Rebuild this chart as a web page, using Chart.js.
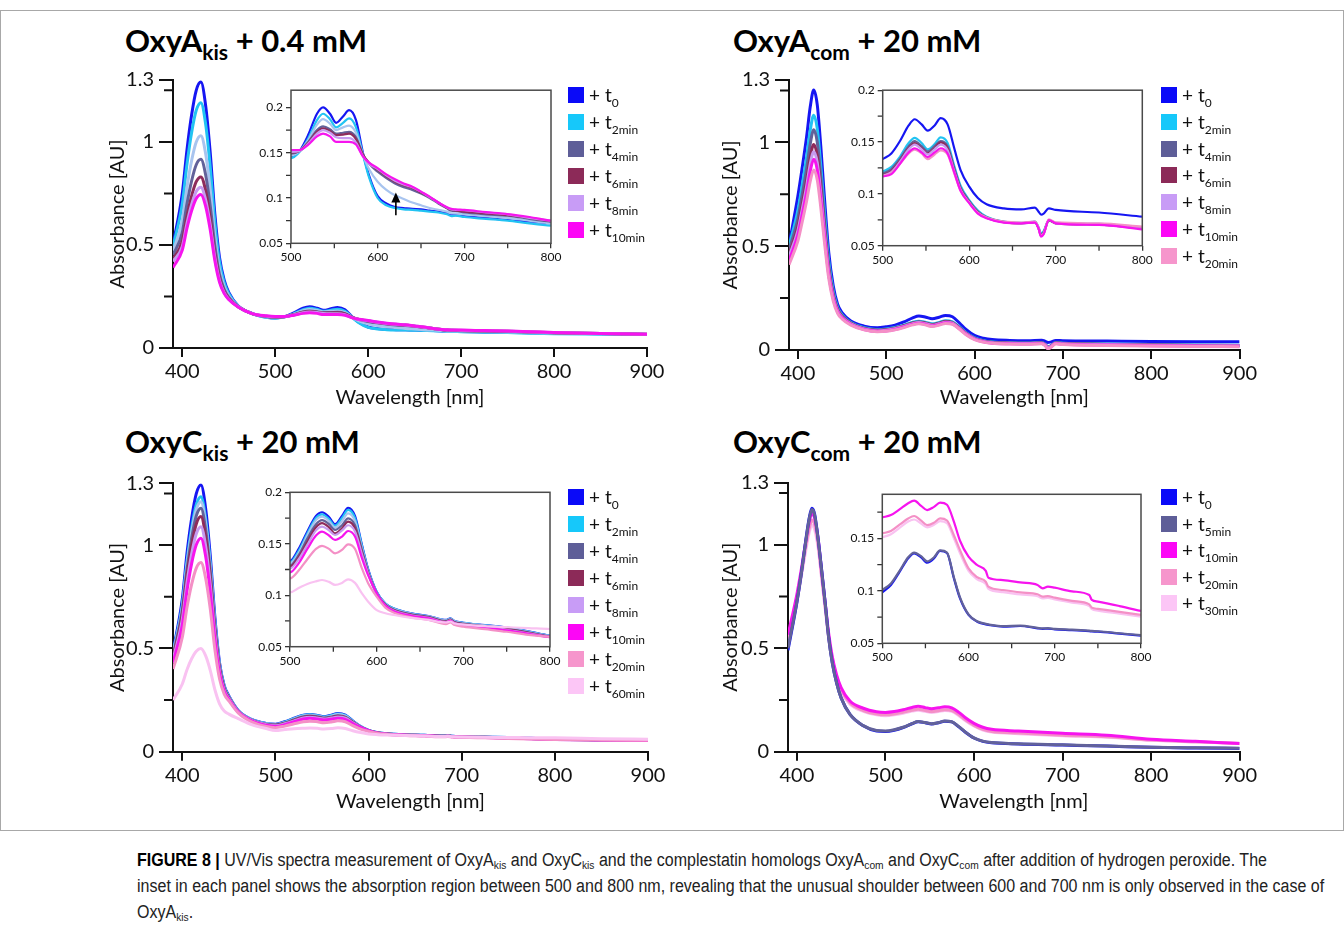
<!DOCTYPE html>
<html><head><meta charset="utf-8">
<script src="https://cdn.jsdelivr.net/npm/chart.js@4.4.1/dist/chart.umd.min.js"></script>
<style>
html,body{margin:0;padding:0;background:#fff;}
body{width:1344px;height:926px;position:relative;overflow:hidden;font-family:Lato,"Open Sans",sans-serif;}
canvas{position:absolute;}
.frame{position:absolute;left:0;top:10px;width:1342px;height:819px;border:1px solid #a8a8a8;}
.ptitle{position:absolute;font-weight:700;font-size:31px;line-height:40px;color:#000;white-space:nowrap;}
.ptitle sub{font-size:21px;vertical-align:-8px;line-height:0;}
.leg{position:absolute;height:16px;display:flex;align-items:center;white-space:nowrap;}
.sw{width:16px;height:16px;display:inline-block;margin-right:5px;flex:none;}
.lt{font-size:19px;line-height:16px;color:#111;}
.lt sub{font-size:12px;vertical-align:-5px;line-height:0;}
.cap{position:absolute;left:137px;top:847px;white-space:nowrap;font-family:"Liberation Sans",Arial,sans-serif;font-size:18px;line-height:26px;color:#222;transform:scaleX(0.89);transform-origin:0 0;}
.cap b{color:#000;}
.cap sub{font-size:11.5px;vertical-align:-3px;line-height:0;}
</style>
</head><body>
<div class="frame"></div>
<div class="ptitle" style="left:125px;top:20px">OxyA<sub>kis</sub> + 0.4 mM</div>
<div class="ptitle" style="left:733px;top:20px">OxyA<sub>com</sub> + 20 mM</div>
<div class="ptitle" style="left:125px;top:421px">OxyC<sub>kis</sub> + 20 mM</div>
<div class="ptitle" style="left:733px;top:421px">OxyC<sub>com</sub> + 20 mM</div>
<div class="cap"><b>FIGURE 8 |</b> UV/Vis spectra measurement of OxyA<sub>kis</sub> and OxyC<sub>kis</sub> and the complestatin homologs OxyA<sub>com</sub> and OxyC<sub>com</sub> after addition of hydrogen peroxide. The<br>inset in each panel shows the absorption region between 500 and 800 nm, revealing that the unusual shoulder between 600 and 700 nm is only observed in the case of<br>OxyA<sub>kis</sub>.</div>
<script>
// ---------------- DATA ----------------
const MAIN_X_TICKS = [400, 500, 600, 700, 800, 900];
const MAIN_Y_TICKS = [0, 0.5, 1, 1.3];
const MAIN_Y_MINOR = [0.25, 0.75, 1.25];
const INSET_X_TICKS = [500, 600, 700, 800];
const INSET_X_MINOR = [550, 650, 750];
const INSET_Y_TICKS = [0.05, 0.1, 0.15, 0.2];
const INSET_Y_TICKS_CCOM = [0.05, 0.1, 0.15];
const INSET_Y_MINOR = [0.075, 0.125, 0.175];

// Panel 1: OxyA_kis + 0.4 mM
const WL_AKIS = [390,400,405,410,415,420,425,430,435,440,445,450,460,475,490,500,510,520,530,537,545,552,560,567,575,583,590,600,610,620,630,640,650,660,670,680,685,690,700,725,750,775,800,850,900];
const AKIS_T0 = [0.50,0.75,0.96,1.13,1.25,1.29,1.18,0.95,0.65,0.44,0.33,0.27,0.205,0.168,0.150,0.145,0.152,0.170,0.193,0.200,0.193,0.183,0.190,0.197,0.186,0.150,0.125,0.102,0.094,0.090,0.089,0.088,0.0875,0.086,0.085,0.083,0.081,0.081,0.080,0.078,0.0757,0.074,0.072,0.069,0.066];
const AKIS_T2 = [0.49,0.70,0.89,1.044,1.153,1.19,1.09,0.881,0.609,0.418,0.318,0.263,0.203,0.167,0.149,0.144,0.151,0.166,0.186,0.193,0.187,0.178,0.183,0.188,0.178,0.148,0.123,0.100,0.092,0.089,0.0875,0.087,0.086,0.085,0.084,0.082,0.080,0.0805,0.079,0.077,0.075,0.072,0.0695,0.067,0.065];
const AKIS_TX = [0.47,0.619,0.779,0.908,0.999,1.03,0.946,0.771,0.543,0.383,0.299,0.253,0.202,0.167,0.151,0.147,0.152,0.164,0.181,0.187,0.182,0.175,0.178,0.180,0.172,0.148,0.132,0.118,0.109,0.103,0.099,0.095,0.092,0.089,0.087,0.085,0.083,0.083,0.082,0.080,0.078,0.075,0.072,0.069,0.066];
const AKIS_T4 = [0.45,0.561,0.698,0.81,0.889,0.915,0.843,0.692,0.495,0.357,0.285,0.246,0.201,0.167,0.153,0.149,0.152,0.162,0.175,0.179,0.176,0.171,0.172,0.173,0.167,0.148,0.138,0.129,0.122,0.116,0.112,0.109,0.105,0.100,0.094,0.0886,0.086,0.0857,0.084,0.082,0.0805,0.077,0.074,0.070,0.067];
const AKIS_T6 = [0.43,0.518,0.639,0.737,0.807,0.83,0.766,0.633,0.46,0.339,0.275,0.24,0.200,0.167,0.154,0.150,0.152,0.161,0.173,0.177,0.174,0.1695,0.170,0.171,0.165,0.148,0.139,0.131,0.124,0.118,0.114,0.111,0.106,0.101,0.095,0.089,0.087,0.086,0.085,0.083,0.081,0.078,0.0745,0.070,0.067];
const AKIS_T8 = [0.42,0.493,0.604,0.695,0.759,0.78,0.721,0.599,0.44,0.328,0.269,0.237,0.200,0.167,0.155,0.151,0.152,0.160,0.171,0.175,0.172,0.167,0.166,0.166,0.161,0.146,0.138,0.132,0.125,0.119,0.115,0.112,0.107,0.101,0.095,0.0895,0.0875,0.087,0.0865,0.084,0.082,0.078,0.075,0.070,0.067];
const AKIS_T10 = [0.39,0.475,0.58,0.665,0.725,0.745,0.69,0.575,0.425,0.32,0.265,0.235,0.199,0.167,0.156,0.153,0.153,0.159,0.168,0.171,0.168,0.162,0.162,0.162,0.159,0.146,0.139,0.133,0.126,0.1206,0.116,0.1125,0.107,0.1015,0.095,0.0897,0.088,0.0875,0.0868,0.0845,0.0823,0.079,0.075,0.070,0.067];
const AKIS_ARROW = [621, 0.081, 0.106]; // wavelength, from, to

// Panel 2: OxyA_com + 20 mM (main)
const WL_ACOM = [390,400,405,410,414,418,422,426,430,435,440,445,450,460,475,490,500,510,520,530,537,545,552,560,567,575,583,590,600,610,620,640,660,676,680,683,686,692,700,750,800,850,900];
const ACOM_T0 = [0.505,0.74,0.88,1.03,1.17,1.252,1.18,0.98,0.74,0.47,0.31,0.22,0.18,0.14,0.115,0.107,0.112,0.12,0.135,0.155,0.164,0.158,0.151,0.158,0.166,0.16,0.13,0.10,0.07,0.057,0.05,0.046,0.045,0.047,0.042,0.036,0.038,0.046,0.045,0.043,0.041,0.04,0.04];
const ACOM_T2 = [0.50,0.671,0.796,0.931,1.057,1.13,1.066,0.886,0.671,0.429,0.285,0.205,0.169,0.132,0.107,0.098,0.101,0.108,0.12,0.134,0.139,0.133,0.126,0.133,0.141,0.136,0.111,0.085,0.058,0.045,0.039,0.035,0.034,0.036,0.027,0.015,0.02,0.036,0.033,0.029,0.026,0.024,0.023];
const ACOM_T4 = [0.48,0.632,0.749,0.875,0.992,1.06,1.00,0.833,0.632,0.407,0.273,0.199,0.165,0.13,0.105,0.096,0.099,0.106,0.118,0.131,0.136,0.130,0.123,0.130,0.138,0.133,0.108,0.083,0.056,0.043,0.037,0.034,0.033,0.035,0.026,0.013,0.018,0.035,0.032,0.028,0.025,0.023,0.022];
const ACOM_T6 = [0.46,0.594,0.702,0.819,0.927,0.99,0.935,0.78,0.594,0.385,0.262,0.193,0.161,0.128,0.103,0.094,0.097,0.104,0.116,0.129,0.134,0.128,0.121,0.128,0.136,0.131,0.106,0.081,0.055,0.042,0.036,0.033,0.032,0.034,0.025,0.012,0.017,0.034,0.031,0.027,0.024,0.022,0.021];
const ACOM_T8 = [0.45,0.574,0.678,0.79,0.894,0.955,0.902,0.753,0.574,0.374,0.255,0.188,0.158,0.126,0.101,0.092,0.095,0.102,0.114,0.127,0.132,0.126,0.119,0.126,0.134,0.129,0.104,0.079,0.054,0.041,0.035,0.032,0.031,0.033,0.024,0.01,0.016,0.033,0.030,0.026,0.023,0.021,0.020];
const ACOM_T10 = [0.43,0.553,0.653,0.76,0.86,0.918,0.867,0.724,0.553,0.361,0.248,0.184,0.155,0.123,0.099,0.09,0.092,0.099,0.111,0.124,0.129,0.123,0.116,0.123,0.131,0.126,0.102,0.077,0.052,0.039,0.033,0.030,0.029,0.031,0.022,0.007,0.013,0.031,0.028,0.024,0.021,0.019,0.018];
const ACOM_T20 = [0.41,0.524,0.618,0.719,0.812,0.867,0.819,0.685,0.524,0.344,0.237,0.177,0.15,0.12,0.097,0.088,0.09,0.097,0.108,0.121,0.126,0.12,0.113,0.12,0.128,0.124,0.1,0.075,0.05,0.038,0.032,0.029,0.028,0.03,0.021,0.006,0.012,0.03,0.026,0.022,0.019,0.017,0.016];
// Panel 2 inset (500-800 nm)
const WL_ACOM_IN = [500,510,520,530,537,545,552,560,567,575,583,590,600,610,620,640,660,676,680,683,686,692,700,750,800];
const ACOM_IN_T0 = [0.1336,0.139,0.151,0.166,0.172,0.167,0.161,0.166,0.173,0.167,0.143,0.123,0.107,0.096,0.090,0.086,0.085,0.0868,0.083,0.080,0.081,0.086,0.0845,0.082,0.078];
const ACOM_IN_T2 = [0.1216,0.126,0.136,0.149,0.154,0.149,0.143,0.148,0.1545,0.149,0.126,0.108,0.094,0.084,0.078,0.0732,0.072,0.0732,0.068,0.062,0.064,0.0748,0.072,0.071,0.067];
const ACOM_IN_T4 = [0.1195,0.124,0.134,0.146,0.151,0.146,0.141,0.146,0.151,0.146,0.124,0.106,0.093,0.083,0.0775,0.073,0.0718,0.073,0.067,0.061,0.063,0.0745,0.0718,0.0705,0.0668];
const ACOM_IN_T6 = [0.118,0.122,0.132,0.144,0.149,0.144,0.139,0.144,0.1497,0.144,0.122,0.105,0.092,0.082,0.077,0.0728,0.0716,0.0728,0.067,0.060,0.062,0.0745,0.0716,0.0703,0.0666];
const ACOM_IN_T8 = [0.1175,0.121,0.131,0.143,0.1475,0.143,0.138,0.143,0.1475,0.142,0.121,0.104,0.0915,0.0815,0.0768,0.0726,0.0716,0.0726,0.0668,0.0595,0.0615,0.0748,0.0716,0.0702,0.0664];
const ACOM_IN_T10 = [0.1168,0.119,0.129,0.140,0.144,0.140,0.1355,0.140,0.144,0.139,0.120,0.103,0.091,0.081,0.0765,0.0723,0.0716,0.0723,0.0668,0.0587,0.061,0.0748,0.0716,0.070,0.0658];
const ACOM_IN_T20 = [0.117,0.120,0.129,0.139,0.1426,0.139,0.1336,0.138,0.142,0.138,0.119,0.103,0.0915,0.0818,0.0772,0.0732,0.0724,0.0732,0.0675,0.0595,0.062,0.0755,0.0725,0.0715,0.0684];

// Panel 3: OxyC_kis + 20 mM
const WL_CKIS = [390,400,405,410,415,420,425,430,435,440,445,450,460,475,490,500,510,520,530,537,545,552,560,567,575,583,590,600,610,620,640,660,680,685,690,700,725,750,775,800,850,900];
const CKIS_T0 = [0.485,0.74,0.96,1.13,1.25,1.292,1.18,0.95,0.65,0.43,0.32,0.27,0.2,0.155,0.137,0.1333,0.145,0.162,0.177,0.1806,0.176,0.169,0.177,0.185,0.177,0.149,0.126,0.1035,0.092,0.087,0.0824,0.0798,0.076,0.0775,0.075,0.0733,0.071,0.0685,0.065,0.0607,0.058,0.056];
const CKIS_T2 = [0.48,0.712,0.92,1.082,1.196,1.235,1.128,0.911,0.626,0.419,0.314,0.266,0.198,0.154,0.136,0.132,0.143,0.160,0.175,0.1786,0.174,0.1676,0.175,0.183,0.175,0.148,0.125,0.103,0.092,0.087,0.0822,0.0796,0.0758,0.0772,0.0748,0.0731,0.0708,0.0683,0.0648,0.0605,0.058,0.056];
const CKIS_TX = [0.475,0.70,0.904,1.061,1.173,1.211,1.107,0.895,0.617,0.414,0.311,0.265,0.197,0.153,0.135,0.131,0.141,0.158,0.173,0.1764,0.172,0.1657,0.172,0.1796,0.172,0.146,0.124,0.1025,0.0915,0.0865,0.082,0.0794,0.0756,0.077,0.0746,0.073,0.0706,0.068,0.0645,0.0603,0.058,0.056];
const CKIS_T4 = [0.465,0.685,0.881,1.034,1.142,1.179,1.078,0.873,0.603,0.408,0.308,0.263,0.196,0.152,0.133,0.129,0.139,0.155,0.169,0.173,0.169,0.1634,0.168,0.1747,0.168,0.144,0.123,0.102,0.091,0.086,0.0815,0.079,0.075,0.0765,0.074,0.0725,0.070,0.0675,0.064,0.060,0.0575,0.0555];
const CKIS_T6 = [0.455,0.665,0.854,1.0,1.103,1.139,1.042,0.845,0.587,0.399,0.303,0.26,0.195,0.151,0.132,0.1278,0.137,0.152,0.166,0.170,0.166,0.160,0.165,0.1715,0.165,0.142,0.122,0.1015,0.0905,0.0855,0.081,0.0785,0.0745,0.076,0.0735,0.072,0.0695,0.067,0.0635,0.0598,0.0572,0.0552];
const CKIS_T8 = [0.445,0.641,0.819,0.958,1.056,1.09,0.998,0.811,0.567,0.389,0.298,0.257,0.194,0.150,0.131,0.126,0.135,0.149,0.163,0.1666,0.163,0.1585,0.163,0.168,0.162,0.140,0.121,0.101,0.090,0.085,0.0805,0.078,0.074,0.0755,0.073,0.0715,0.069,0.0665,0.063,0.0595,0.057,0.055];
const CKIS_T10 = [0.43,0.613,0.78,0.911,1.002,1.034,0.948,0.773,0.544,0.377,0.292,0.253,0.192,0.148,0.128,0.1222,0.131,0.145,0.158,0.1618,0.158,0.1537,0.157,0.1624,0.157,0.136,0.1197,0.102,0.090,0.0845,0.080,0.0775,0.0735,0.075,0.0725,0.071,0.0685,0.066,0.0625,0.0592,0.0568,0.0548];
const CKIS_T20 = [0.40,0.554,0.698,0.81,0.889,0.916,0.842,0.692,0.495,0.352,0.279,0.246,0.188,0.143,0.122,0.1164,0.124,0.135,0.145,0.148,0.145,0.1407,0.144,0.1495,0.145,0.126,0.112,0.0986,0.088,0.083,0.0785,0.076,0.072,0.0735,0.071,0.0695,0.067,0.0645,0.0615,0.0595,0.057,0.055];
const CKIS_T60 = [0.25,0.328,0.397,0.45,0.487,0.50,0.465,0.394,0.30,0.232,0.197,0.182,0.16,0.13,0.112,0.1028,0.107,0.111,0.1135,0.1148,0.113,0.110,0.112,0.1155,0.112,0.1018,0.094,0.0856,0.0825,0.0808,0.078,0.076,0.0735,0.0745,0.0725,0.0715,0.070,0.069,0.068,0.0672,0.063,0.060];

// Panel 4: OxyC_com + 20 mM (main)
const WL_CCOM = [390,400,405,410,414,417,420,424,428,432,436,440,445,450,460,475,490,500,510,520,530,537,545,552,560,567,575,583,590,600,610,620,650,700,750,800,850,900];
const CCOM_T0 = [0.49,0.72,0.86,1.02,1.13,1.176,1.15,1.03,0.88,0.72,0.55,0.43,0.33,0.26,0.18,0.125,0.1,0.098,0.104,0.117,0.135,0.145,0.140,0.134,0.140,0.147,0.144,0.120,0.095,0.066,0.05,0.043,0.037,0.032,0.027,0.021,0.018,0.016];
const CCOM_T5 = [0.50,0.725,0.86,1.015,1.125,1.17,1.145,1.025,0.875,0.715,0.548,0.43,0.33,0.26,0.18,0.126,0.102,0.100,0.106,0.118,0.136,0.146,0.141,0.135,0.141,0.148,0.145,0.121,0.096,0.067,0.051,0.044,0.038,0.033,0.028,0.022,0.019,0.017];
const CCOM_T10 = [0.565,0.76,0.88,1.015,1.11,1.152,1.13,1.03,0.87,0.72,0.57,0.46,0.37,0.31,0.245,0.21,0.193,0.19,0.194,0.203,0.214,0.22,0.213,0.208,0.212,0.217,0.212,0.19,0.165,0.137,0.118,0.108,0.10,0.089,0.08,0.06,0.05,0.04];
const CCOM_T20 = [0.55,0.74,0.86,0.99,1.08,1.12,1.10,1.005,0.85,0.70,0.555,0.448,0.36,0.30,0.235,0.199,0.182,0.178,0.182,0.19,0.2,0.205,0.199,0.194,0.198,0.203,0.199,0.178,0.155,0.127,0.108,0.098,0.09,0.08,0.072,0.056,0.048,0.04];
const CCOM_T30 = [0.535,0.725,0.845,0.97,1.06,1.095,1.075,0.985,0.835,0.69,0.545,0.44,0.353,0.294,0.23,0.195,0.178,0.174,0.178,0.186,0.196,0.2,0.195,0.19,0.194,0.199,0.195,0.174,0.151,0.124,0.105,0.095,0.087,0.077,0.07,0.055,0.047,0.041];
// Panel 4 inset (500-800 nm)
const WL_CCOM_IN = [500,510,520,530,537,545,552,560,567,575,583,590,600,610,620,623,640,660,680,686,692,700,720,740,743,750,775,800];
const CCOM_IN_T0 = [0.0986,0.1056,0.118,0.131,0.1357,0.132,0.1268,0.131,0.138,0.136,0.112,0.093,0.077,0.0706,0.068,0.0675,0.0659,0.0665,0.0643,0.0638,0.064,0.0633,0.0625,0.0615,0.0613,0.0611,0.0592,0.0573];
const CCOM_IN_T5 = [0.1008,0.107,0.119,0.132,0.1365,0.133,0.128,0.132,0.1385,0.1365,0.113,0.094,0.0775,0.071,0.0685,0.068,0.0663,0.0668,0.0647,0.0642,0.0644,0.0637,0.063,0.062,0.0618,0.0615,0.0596,0.0577];
const CCOM_IN_T10 = [0.170,0.1722,0.1776,0.1835,0.1859,0.181,0.177,0.180,0.184,0.182,0.166,0.148,0.1326,0.1246,0.119,0.1125,0.1103,0.108,0.1056,0.1024,0.104,0.103,0.0995,0.096,0.0913,0.0897,0.0855,0.0808];
const CCOM_IN_T20 = [0.1548,0.157,0.163,0.169,0.1713,0.167,0.1627,0.165,0.169,0.167,0.153,0.139,0.1214,0.113,0.1087,0.104,0.1008,0.0985,0.0967,0.0945,0.095,0.0935,0.0905,0.0871,0.084,0.0828,0.080,0.077];
const CCOM_IN_T30 = [0.151,0.154,0.160,0.166,0.168,0.164,0.1605,0.163,0.1665,0.1645,0.150,0.136,0.119,0.111,0.1065,0.102,0.0988,0.0965,0.0948,0.0928,0.0932,0.0918,0.0888,0.0855,0.0825,0.0812,0.0783,0.0754];

// Legend entries: [series key, subscript]
const LEG_AKIS = [['t0','0'],['t2','2min'],['t4','4min'],['t6','6min'],['t8','8min'],['t10','10min']];
const LEG_ACOM = [['t0','0'],['t2','2min'],['t4','4min'],['t6','6min'],['t8','8min'],['t10','10min'],['t20','20min']];
const LEG_CKIS = [['t0','0'],['t2','2min'],['t4','4min'],['t6','6min'],['t8','8min'],['t10','10min'],['t20','20min'],['t60','60min']];
const LEG_CCOM = [['t0','0'],['t5','5min'],['t10','10min'],['t20','20min'],['t30','30min']];

// ---------------- STYLE ----------------
const COLORS = {t0:'#1616f2', t2:'#22c3f2', tx:'#a8c4ef', t4:'#62629a', t5:'#62629a', t6:'#8e2c5c', t8:'#c69bf0', t10:'#f614ee', t20:'#f490c6', t30:'#f9c2f1', t60:'#f9c2f1'};
const LEGCOL = {t0:'#0a0af8', t2:'#16c8fa', t4:'#5e5e98', t5:'#5e5e98', t6:'#8c2a58', t8:'#c89cf6', t10:'#fc06f6', t20:'#f696cc', t30:'#fcc6f6', t60:'#fcc6f6'};
const FONT = 'Lato, "Open Sans", sans-serif';

const minorPlugin = {
  id: 'minor',
  afterDraw(chart, args, o) {
    const ctx = chart.ctx, ca = chart.chartArea, xs = chart.scales.x, ys = chart.scales.y;
    ctx.save();
    ctx.strokeStyle = o.color; ctx.lineWidth = o.width;
    ctx.beginPath();
    (o.y || []).forEach(v => { const p = ys.getPixelForValue(v); ctx.moveTo(ca.left - o.len, p); ctx.lineTo(ca.left, p); });
    (o.x || []).forEach(v => { const p = xs.getPixelForValue(v); ctx.moveTo(p, ca.bottom); ctx.lineTo(p, ca.bottom + o.len); });
    ctx.stroke();
    if (o.box) {
      ctx.lineWidth = o.boxWidth; ctx.strokeStyle = o.boxColor;
      ctx.strokeRect(ca.left, ca.top, ca.right - ca.left, ca.bottom - ca.top);
    }
    if (o.arrow) {
      const ax = xs.getPixelForValue(o.arrow[0]), y0 = ys.getPixelForValue(o.arrow[1]), y1 = ys.getPixelForValue(o.arrow[2]);
      ctx.strokeStyle = '#000'; ctx.fillStyle = '#000'; ctx.lineWidth = 1.6;
      ctx.beginPath(); ctx.moveTo(ax, y0); ctx.lineTo(ax, y1 + 8); ctx.stroke();
      ctx.beginPath(); ctx.moveTo(ax, y1); ctx.lineTo(ax - 4.5, y1 + 10); ctx.lineTo(ax + 4.5, y1 + 10); ctx.closePath(); ctx.fill();
    }
    ctx.restore();
  }
};

function build(L, wl, series, o) {
  const cv = document.createElement('canvas');
  cv.width = L.w; cv.height = L.h;
  cv.style.left = L.left + 'px'; cv.style.top = L.top + 'px';
  cv.style.width = L.w + 'px'; cv.style.height = L.h + 'px';
  document.body.appendChild(cv);
  const n = series.length;
  new Chart(cv.getContext('2d'), {
    type: 'line',
    data: { datasets: series.map((s, i) => ({
      label: s.label,
      data: wl.map((x, j) => ({ x: x, y: s.data[j] })),
      borderColor: COLORS[s.key], backgroundColor: COLORS[s.key],
      borderWidth: o.lw, pointRadius: 0, pointHoverRadius: 0, fill: false,
      cubicInterpolationMode: 'monotone', order: n - i
    })) },
    options: {
      responsive: false, animation: false, devicePixelRatio: 1, events: [],
      layout: { padding: { top: L.pt, right: L.pr, left: 0, bottom: 0 } },
      plugins: { legend: { display: false }, tooltip: { enabled: false },
        minor: { x: o.xminor, y: o.yminor, len: o.mlen, width: o.tw, color: o.axisColor, box: o.box, boxWidth: 1.5, boxColor: '#4a4a4a', arrow: o.arrow } },
      scales: {
        x: {
          type: 'linear', min: o.xmin, max: o.xmax,
          afterBuildTicks: a => { a.ticks = o.xticks.map(v => ({ value: v })); },
          afterFit: a => { a.height = L.xh; },
          ticks: { autoSkip: false, maxRotation: 0, padding: o.xpad, color: '#111', font: { family: FONT, size: o.fs }, callback: v => String(v) },
          grid: { display: true, drawOnChartArea: false, drawTicks: true, tickLength: o.xtl, color: o.axisColor, lineWidth: o.tw },
          border: { display: !o.box, color: o.axisColor, width: o.bw },
          title: o.xtitle ? { display: true, text: o.xtitle, color: '#111', font: { family: FONT, size: 20 }, padding: { top: 0, bottom: L.xtp } } : { display: false }
        },
        y: {
          type: 'linear', min: o.ymin, max: o.ymax,
          afterBuildTicks: a => { a.ticks = o.yticks.map(v => ({ value: v })); },
          afterFit: a => { a.width = L.yw; },
          ticks: { autoSkip: false, padding: o.ypad, color: '#111', font: { family: FONT, size: o.fs }, callback: v => String(v) },
          grid: { display: true, drawOnChartArea: false, drawTicks: true, tickLength: o.ytl, color: o.axisColor, lineWidth: o.tw },
          border: { display: !o.box, color: o.axisColor, width: o.bw },
          title: o.ytitle ? { display: true, text: o.ytitle, color: '#111', font: { family: FONT, size: 20 }, padding: { top: L.ytp, bottom: 0 } } : { display: false }
        }
      }
    },
    plugins: [minorPlugin]
  });
}

const MAIN = { lw: 3, xmin: 390, xmax: 900, ymin: 0, ymax: 1.3, xticks: MAIN_X_TICKS, yticks: MAIN_Y_TICKS, xminor: [], yminor: MAIN_Y_MINOR,
  mlen: 9, tw: 2, bw: 2, axisColor: '#111', xtl: 9, ytl: 14, xpad: 3, ypad: 5, fs: 20, box: false,
  xtitle: 'Wavelength [nm]', ytitle: 'Absorbance [AU]' };
const INSET = { lw: 2.2, xmin: 500, xmax: 800, xticks: INSET_X_TICKS, xminor: INSET_X_MINOR, yminor: INSET_Y_MINOR,
  mlen: 5, tw: 1.3, bw: 1.3, axisColor: '#333', xtl: 5, ytl: 5, xpad: 2, ypad: 3, fs: 12, box: true };

// series lists
const S_AKIS = [{key:'t0',label:'t0',data:AKIS_T0},{key:'t2',label:'t2min',data:AKIS_T2},{key:'tx',label:'extra',data:AKIS_TX},{key:'t4',label:'t4min',data:AKIS_T4},{key:'t6',label:'t6min',data:AKIS_T6},{key:'t8',label:'t8min',data:AKIS_T8},{key:'t10',label:'t10min',data:AKIS_T10}];
const S_ACOM = [{key:'t0',label:'t0',data:ACOM_T0},{key:'t2',label:'t2min',data:ACOM_T2},{key:'t4',label:'t4min',data:ACOM_T4},{key:'t6',label:'t6min',data:ACOM_T6},{key:'t8',label:'t8min',data:ACOM_T8},{key:'t10',label:'t10min',data:ACOM_T10},{key:'t20',label:'t20min',data:ACOM_T20}];
const S_ACOM_IN = [{key:'t0',label:'t0',data:ACOM_IN_T0},{key:'t2',label:'t2min',data:ACOM_IN_T2},{key:'t4',label:'t4min',data:ACOM_IN_T4},{key:'t6',label:'t6min',data:ACOM_IN_T6},{key:'t8',label:'t8min',data:ACOM_IN_T8},{key:'t20',label:'t20min',data:ACOM_IN_T20},{key:'t10',label:'t10min',data:ACOM_IN_T10}];
const S_CKIS = [{key:'t0',label:'t0',data:CKIS_T0},{key:'t2',label:'t2min',data:CKIS_T2},{key:'tx',label:'extra',data:CKIS_TX},{key:'t4',label:'t4min',data:CKIS_T4},{key:'t6',label:'t6min',data:CKIS_T6},{key:'t8',label:'t8min',data:CKIS_T8},{key:'t10',label:'t10min',data:CKIS_T10},{key:'t20',label:'t20min',data:CKIS_T20},{key:'t60',label:'t60min',data:CKIS_T60}];
const S_CCOM = [{key:'t30',label:'t30min',data:CCOM_T30},{key:'t20',label:'t20min',data:CCOM_T20},{key:'t10',label:'t10min',data:CCOM_T10},{key:'t0',label:'t0',data:CCOM_T0},{key:'t5',label:'t5min',data:CCOM_T5}];
const S_CCOM_IN = [{key:'t30',label:'t30min',data:CCOM_IN_T30},{key:'t20',label:'t20min',data:CCOM_IN_T20},{key:'t10',label:'t10min',data:CCOM_IN_T10},{key:'t0',label:'t0',data:CCOM_IN_T0},{key:'t5',label:'t5min',data:CCOM_IN_T5}];

// main panels
build({left:100, top:60, w:570, h:360, yw:73, xh:72, pt:20, pr:23, xtp:10.6, ytp:5.6}, WL_AKIS, S_AKIS, MAIN);
build({left:716, top:60, w:544, h:360, yw:73, xh:70, pt:20, pr:19, xtp:10.6, ytp:2.6}, WL_ACOM, S_ACOM, MAIN);
build({left:100, top:463, w:570, h:360, yw:73, xh:71.3, pt:20.3, pr:22, xtp:9.6, ytp:5.6}, WL_CKIS, S_CKIS, MAIN);
build({left:716, top:463, w:544, h:360, yw:72, xh:71.3, pt:19.7, pr:19, xtp:9.6, ytp:2.6}, WL_CCOM, S_CCOM, MAIN);

// insets
build({left:250, top:80, w:320, h:190, yw:41, xh:26.7, pt:10, pr:19}, WL_AKIS, S_AKIS, Object.assign({}, INSET, {ymin:0.05, ymax:0.219, yticks:INSET_Y_TICKS, arrow:AKIS_ARROW}));
build({left:840, top:80, w:320, h:190, yw:42.7, xh:24.3, pt:10, pr:17.7}, WL_ACOM_IN, S_ACOM_IN, Object.assign({}, INSET, {ymin:0.05, ymax:0.2, yticks:INSET_Y_TICKS}));
build({left:250, top:480, w:320, h:190, yw:40, xh:23.3, pt:12.3, pr:20}, WL_CKIS, S_CKIS, Object.assign({}, INSET, {ymin:0.05, ymax:0.2, yticks:INSET_Y_TICKS}));
build({left:840, top:480, w:320, h:190, yw:42.3, xh:26.7, pt:14.3, pr:19}, WL_CCOM_IN, S_CCOM_IN, Object.assign({}, INSET, {ymin:0.05, ymax:0.192, yticks:INSET_Y_TICKS_CCOM}));

// legends
function legend(x, y0, step, items) {
  items.forEach((it, i) => {
    const d = document.createElement('div');
    d.className = 'leg';
    d.style.left = x + 'px';
    d.style.top = (y0 + i * step - 8) + 'px';
    d.innerHTML = '<span class="sw" style="background:' + LEGCOL[it[0]] + '"></span><span class="lt">+ t<sub>' + it[1] + '</sub></span>';
    document.body.appendChild(d);
  });
}
legend(568, 95, 27, LEG_AKIS);
legend(1161, 95, 26.8, LEG_ACOM);
legend(568, 497, 27, LEG_CKIS);
legend(1161, 497, 26.5, LEG_CCOM);
</script>
</body></html>
